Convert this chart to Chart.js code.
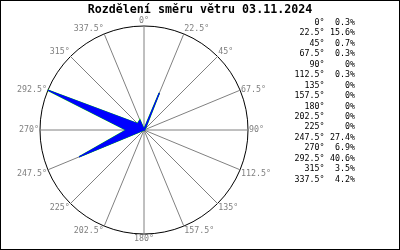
<!DOCTYPE html>
<html>
<head>
<meta charset="utf-8">
<script src="https://cdn.jsdelivr.net/npm/chart.js@4.4.0/dist/chart.umd.min.js"></script>
<style>
    body { margin: 0; background: #fff; }
    #wrap { position: relative; width: 400px; height: 250px; overflow: hidden; background: #fff; }
    #roseChart { position: absolute; left: 0; top: 0; }
    #frame { position: absolute; left: 0; top: 0; width: 400px; height: 250px; box-sizing: border-box; border: 1px solid #000; pointer-events: none; }
    #title { position: absolute; left: 0; top: 2px; width: 400px; text-align: center; font: bold 11.67px "DejaVu Sans Mono", monospace; line-height: 14px; color: #000; white-space: pre; }
    #table { position: absolute; top: 16.8px; left: 0; width: 400px; font: 8.3px "DejaVu Sans Mono", monospace; line-height: 10.47px; color: #000; }
    .row { position: relative; height: 10.47px; white-space: pre; }
    .dir { position: absolute; right: 75.5px; text-align: right; }
    .pct { position: absolute; right: 45px; text-align: right; }
</style>
</head>
<body>
<div id="wrap">
    <canvas id="roseChart" width="400" height="250"></canvas>
    <div id="title"></div>
    <div id="table"></div>
    <div id="frame"></div>
</div>
<script>
const chartTitle = "Rozdělení směru větru 03.11.2024";
// smery vetru ve stupnich a podil v procentech
const directions = [0, 22.5, 45, 67.5, 90, 112.5, 135, 157.5, 180, 202.5, 225, 247.5, 270, 292.5, 315, 337.5];
const shares = [0.3, 15.6, 0.7, 0.3, 0, 0.3, 0, 0, 0, 0, 0, 27.4, 6.9, 40.6, 3.5, 4.2];

const maxShare = Math.max(...shares);
const dirLabels = directions.map(d => d + "°");

document.getElementById("title").innerText = chartTitle;

const table = document.getElementById("table");
directions.forEach((d, i) => {
    const row = document.createElement("div");
    row.className = "row";
    const dir = document.createElement("span");
    dir.className = "dir";
    dir.innerText = d + "°";
    const pct = document.createElement("span");
    pct.className = "pct";
    pct.innerText = shares[i] + "%";
    row.appendChild(dir);
    row.appendChild(pct);
    table.appendChild(row);
});

const roseCtx = document.getElementById("roseChart").getContext("2d");
new Chart(roseCtx, {
    type: "radar",
    data: {
        labels: dirLabels,
        datasets: [{
            data: shares,
            fill: true,
            backgroundColor: "#0000ff",
            borderColor: "#0000ff",
            borderWidth: 1,
            pointRadius: 0,
            order: 1
        }, {
            data: shares,
            fill: false,
            borderColor: "#00d000",
            borderWidth: 1.6,
            pointRadius: 0,
            order: 2
        }]
    },
    options: {
        responsive: false,
        animation: false,
        events: [],
        layout: {
            padding: { left: 6, right: 118, top: 17, bottom: 7 }
        },
        plugins: {
            legend: { display: false },
            title: { display: false },
            tooltip: { enabled: false }
        },
        scales: {
            r: {
                min: 0,
                max: maxShare,
                afterBuildTicks: function(scale) {
                    scale.ticks = [{ value: 0 }, { value: maxShare }];
                },
                ticks: { display: false },
                grid: {
                    circular: true,
                    color: "#000000",
                    lineWidth: 1
                },
                angleLines: {
                    color: "#808080",
                    lineWidth: 1
                },
                pointLabels: {
                    padding: 1,
                    color: "#808080",
                    font: function(context) {
                        // 67.5 a 292.5 jsou v originale vycentrovane na konci paprsku
                        const d = directions[context.index];
                        const lh = (d === 67.5 || d === 292.5) ? "0px" : "8px";
                        return { family: "'DejaVu Sans Mono', monospace", size: 8.3, lineHeight: lh };
                    }
                }
            }
        }
    }
});
</script>
</body>
</html>
